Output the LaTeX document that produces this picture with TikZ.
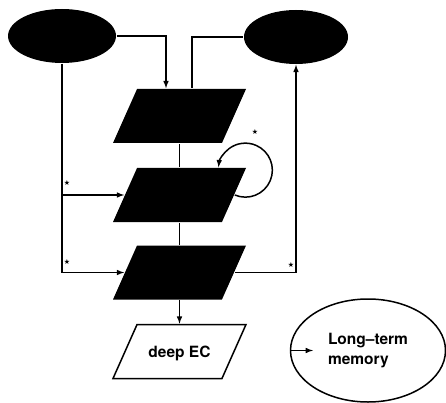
\documentclass[tikz,border=0pt]{standalone}
\usepackage{fontspec}
\setsansfont{TeX Gyre Heros}
\newfontfamily\symfont{DejaVu Sans}
\usetikzlibrary{shapes.geometric}

\begin{document}
\begin{tikzpicture}[x=1pt,y=-1pt,line width=1.5pt,
	blob/.style={ellipse, fill=black, minimum width=108pt, minimum height=54pt, inner sep=0pt},
	layer/.style={trapezium, trapezium left angle=66, trapezium right angle=114, trapezium stretches body,
		minimum width=133pt, inner sep=0pt, fill=black, lbl},
	starlbl/.style={inner sep=0pt, font=\symfont\fontsize{7}{8}\selectfont},
	lbl/.style={font=\sffamily\bfseries\fontsize{15.5}{20}\selectfont}]
	\def\r{27}
	\def\h{27pt}
	\useasboundingbox (0,0) rectangle (446,403);
	
	\node[blob] (le) at (62,36) {}; % Ellipse links
	\node[blob, minimum width=104pt] (re) at (296,37) {}; % Ellipse rechts
	\node[layer] (p1) at (179.5,116) {\raisebox{0pt}[\h][\h]{}};
	\node[layer] (p2) at (179.5,195) {\raisebox{0pt}[\h][\h]{}};
	\node[layer] (p3) at (179.5,272.5) {\raisebox{0pt}[\h][\h]{}};
	\node[layer, fill=white, draw] (dec) at (179.5,351.5) {\raisebox{-5.5pt}[\h][\h]{deep EC}};
	\node[ellipse, draw, minimum width=155pt, minimum height=103pt, align=left, lbl] (ltm) at (368,350.5) {Long--term\\memory};
	\coordinate (ltmin) at (313,350.5);
	
	% Verbindungen
	\draw[-latex] (le.east) -| ([xshift=-13.5pt]p1.north);
	\draw ([xshift=12.5pt]p1.north) |- (re.west);
	\draw (p1) -- (p2);
	\draw (p2) -- (p3);
	\draw[-latex] (p3) -- (dec);
	\draw[-latex] (p2.east) arc[start angle=113, end angle=-174, radius=\r]; % Schleife
	\draw[-latex] (le.south) |- (p3.west);
	\draw[-latex] (le.south |- p2.west) -- (p2.west);
	\draw[-latex] (p3.east) -| (re.south);
	\draw[-latex] (ltm.west) -- (ltmin);
	
	% Sterne
	\node[starlbl] (s1) at (67,183) {★};
	\node[starlbl] (s2) at (67,262) {★};
	\node[starlbl] (s3) at (291,265) {★};
	\node[starlbl] (s4) at (255,132) {★};
\end{tikzpicture}
\end{document}
